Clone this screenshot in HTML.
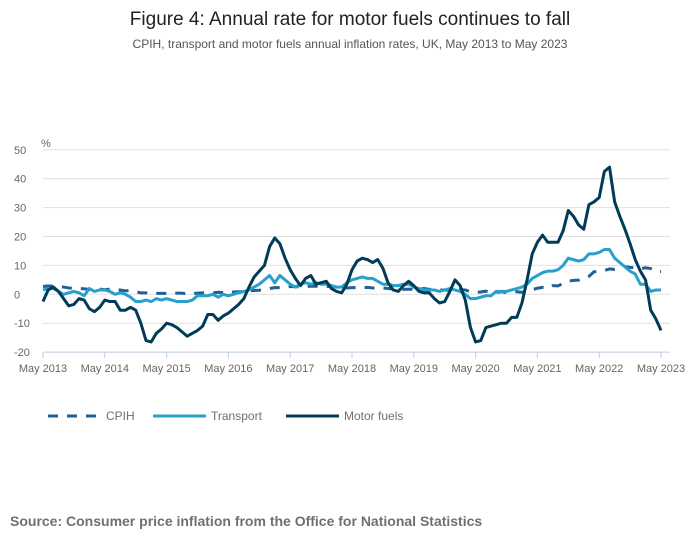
<!DOCTYPE html>
<html><head><meta charset="utf-8"><style>
body{margin:0;background:#fff;font-family:"Liberation Sans",sans-serif}
svg text{font-family:"Liberation Sans",sans-serif}
</style></head><body>
<svg width="700" height="549" viewBox="0 0 700 549">
<text x="350" y="25" text-anchor="middle" font-size="19" fill="#222">Figure 4: Annual rate for motor fuels continues to fall</text>
<text x="350" y="48" text-anchor="middle" font-size="12" fill="#555">CPIH, transport and motor fuels annual inflation rates, UK, May 2013 to May 2023</text>
<text x="41" y="147" font-size="11" fill="#666">%</text>
<g id="grid"></g><g id="xaxis"></g><g id="series"></g>
<g>
<line x1="48" y1="416" x2="101" y2="416" stroke="#206095" stroke-width="3" stroke-dasharray="10,9"/>
<text x="106" y="420" font-size="12" fill="#707070">CPIH</text>
<line x1="153" y1="416" x2="206" y2="416" stroke="#27a0cc" stroke-width="3"/>
<text x="211" y="420" font-size="12" fill="#707070">Transport</text>
<line x1="286" y1="416" x2="339" y2="416" stroke="#003c57" stroke-width="3"/>
<text x="344" y="420" font-size="12" fill="#707070">Motor fuels</text>
</g>
<text x="10" y="526" font-size="14" font-weight="bold" fill="#707070">Source: Consumer price inflation from the Office for National Statistics</text>
</svg>
<script>
const yTicks=[50,40,30,20,10,0,-10,-20];
const xTickLabels=["May 2013","May 2014","May 2015","May 2016","May 2017","May 2018","May 2019","May 2020","May 2021","May 2022","May 2023"];
const cpih=[2.7,2.9,2.8,2.7,2.5,2.2,2.1,2.0,
1.9,1.7,1.6,1.8,1.6,1.8,1.6,1.5,1.2,1.3,0.9,0.5,
0.5,0.3,0.3,0.3,0.3,0.3,0.4,0.4,0.1,0.2,0.4,0.5,
0.5,0.5,0.7,0.6,0.8,0.8,0.9,0.9,1.2,1.3,1.4,1.8,
2.0,2.3,2.3,2.6,2.7,2.6,2.6,2.7,2.8,2.8,2.8,2.7,
2.7,2.5,2.3,2.2,2.3,2.3,2.3,2.4,2.2,2.2,2.2,2.0,
1.8,1.8,1.7,1.8,1.7,1.8,2.0,1.7,1.7,1.5,1.5,1.4,
1.8,1.7,1.5,0.9,0.7,0.8,1.1,0.5,0.7,0.9,0.6,0.8,
0.9,0.7,1.0,1.6,2.1,2.4,2.1,3.0,2.9,3.8,4.6,4.8,
4.9,5.5,6.2,7.8,7.9,8.2,8.8,8.6,8.8,9.6,9.3,9.2,
8.8,9.2,8.9,7.8,7.9];
const transport=[1.5,2.0,2.0,1.0,0.0,0.5,1.0,0.5,
-0.5,2.0,1.0,1.5,1.5,1.0,0.0,0.5,0.0,-1.0,-2.5,-2.5,
-2.0,-2.5,-1.5,-2.0,-1.5,-2.0,-2.5,-2.5,-2.5,-2.0,-0.5,-0.5,
-0.5,0,-1,0,-0.5,0,0.5,1,1.5,2.5,3.5,5,
6.5,4,6.5,5,3.5,2.5,3.5,4,3.5,4,3.5,3.5,
3,2.5,2.5,4,5,5.5,6,5.5,5.5,4.5,3.5,3.5,
3,3,3.5,3.5,2.5,2,1.5,1.5,1.5,1,1.5,2,
1.5,1,0,-1.5,-1.5,-1,-0.5,-0.5,1,1,1,1.5,
2,2.5,3.5,5.5,6.5,7.5,8,8,8.5,10,12.5,12,
11.5,12,14,14,14.5,15.5,15.5,12.5,11,9.5,8,7,
3.5,3.5,1,1.5,1.5];
const motorFuels=[-2.5,1.5,2.5,1,-1.5,-4,-3.5,-1.5,-2,-5,-6,-4.5,
-2,-2.5,-2.5,-5.5,-5.5,-4.5,-5.5,-10,-16,-16.5,-13.5,-12,
-10,-10.5,-11.5,-13,-14.5,-13.5,-12.5,-11,-7,-7,-9,-7.5,
-6.5,-5,-3.5,-1.5,2.5,6,8,10,16.5,19.5,17.5,12.5,
8.5,5.5,3,5.5,6.5,3.5,4,4.5,2,1,0.5,3.5,
8.5,11.5,12.5,12,11,12,9,4,1.5,1,3,4.5,
3,1,0.5,0.5,-1.5,-3,-2.5,1,5,3,-2,-11.5,
-16.5,-16,-11.5,-11,-10.5,-10,-10,-8,-8,-3,5,14,
18,20.5,18,18,18,22,29,27,24,22.5,31,32,
33.5,42.5,44,32,27,22.5,17.5,12,8,5,-5.5,-8.5,
-12.5];
const NS="http://www.w3.org/2000/svg";
const x0=43,x1=661,n=120;
const xs=i=>x0+(x1-x0)*i/n;
const ys=v=>294.3-v*2.89;
function mk(tag,attrs,parent){const e=document.createElementNS(NS,tag);for(const k in attrs)e.setAttribute(k,attrs[k]);parent.appendChild(e);return e;}
const grid=document.getElementById('grid');
yTicks.forEach(t=>{
 const l=mk('line',{x1:x0,x2:670,y1:ys(t),y2:ys(t),stroke:t===-20?'#bfcbe0':'#e0e0e0','stroke-width':1},grid);
 
 
 const tx=mk('text',{x:14,y:ys(t)+4,'font-size':11,fill:'#666'},grid);tx.textContent=t;
 
 
});
const xa=document.getElementById('xaxis');
xTickLabels.forEach((lab,k)=>{
 const x=xs(k*12);
 const l=mk('line',{x1:x,x2:x,y1:ys(-20),y2:ys(-20)+6,stroke:'#bfcbe0'},xa);
 
 
 const tx=mk('text',{x:x,y:372,'font-size':11,fill:'#666','text-anchor':'middle'},xa);tx.textContent=lab;
 
 
});
const sg=document.getElementById('series');
function draw(arr,color,dash,name){
 const d=arr.map((v,i)=>(i?'L':'M')+xs(i).toFixed(2)+','+ys(v).toFixed(2)).join('');
 const p=mk('path',{d:d,fill:'none',stroke:color,'stroke-width':3,'stroke-linejoin':'round'},sg);
 if(dash)p.setAttribute('stroke-dasharray',dash);
 
 
}
draw(cpih,'#206095','10,9','cpih-line');
draw(transport,'#27a0cc',null,'transport-line');
draw(motorFuels,'#003c57',null,'motor-fuels-line');
</script>
</body></html>
